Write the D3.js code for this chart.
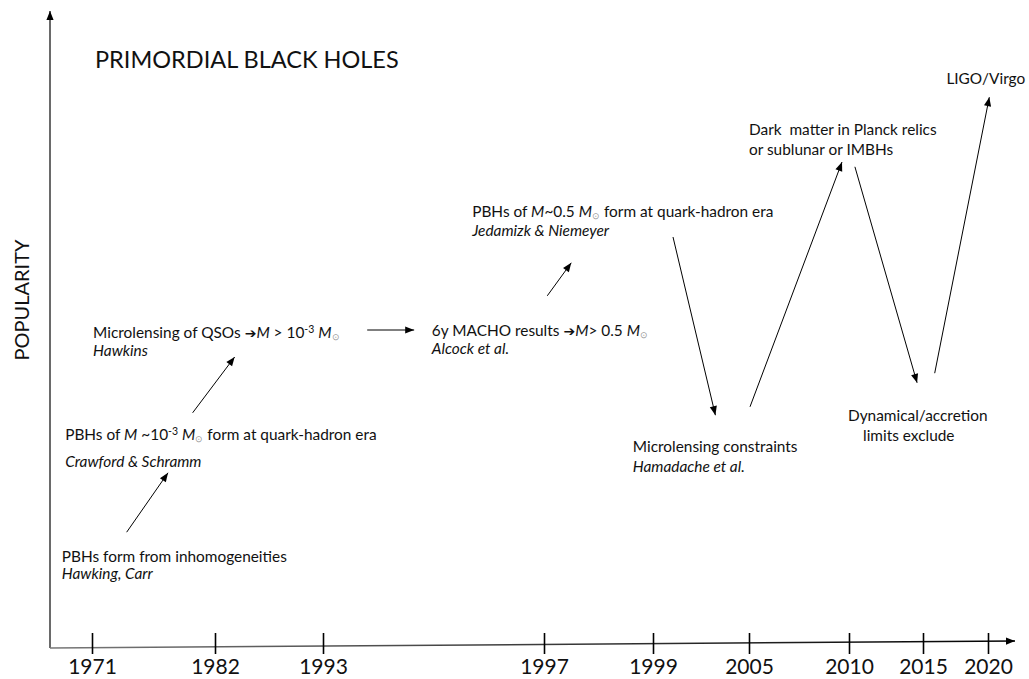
<!DOCTYPE html>
<html>
<head>
<meta charset="utf-8">
<script src="https://cdn.jsdelivr.net/npm/d3@7"></script>
<style>
  body { margin: 0; background: #fff; }
  svg text { font-family: Lato, "Open Sans", sans-serif; fill: #111; white-space: pre; }
</style>
</head>
<body>
<svg id="chart" width="1029" height="679"></svg>
<script>
// tick years on the time axis (the axis is not to scale)
var years = [1971, 1982, 1993, 1997, 1999, 2005, 2010, 2015, 2020];
var tickLabels = ["1971", "1982", "1993", "1997", "1999", "2005", "2010", "2015", "2020"];

// popularity trajectory: [fromYear, fromPop, toYear, toPop]
var trendArrows = [
  [1974.1, 19.3, 1977.8, 29.2],
  [1980.0, 39.2, 1984.0, 48.5],
  [1993.8, 53.0, 1994.65, 53.0],
  [1997.06, 58.7, 1997.5, 64.2],
  [2000.25, 68.5, 2002.9, 38.8],
  [2005.05, 40.2, 2009.65, 81.0],
  [2010.4, 80.2, 2014.6, 44.2],
  [2015.9, 45.8, 2020.1, 91.8]
];

// annotation lines: [year, popularity, text]
var eventLabels = [
  [1968.3, 14.3, "PBHs form from inhomogeneities"],
  [1968.3, 11.5, "{i:Hawking, Carr}"],
  [1968.6, 34.7, "PBHs of {i:M} ~10{sup:-3} {i:M}{sun} form at quark-hadron era"],
  [1968.6, 30.2, "{i:Crawford & Schramm}"],
  [1971.1, 51.7, "Microlensing of QSOs {arr}{i:M} > 10{sup:-3} {i:M}{sun}"],
  [1971.1, 48.7, "{i:Hawkins}"],
  [1994.97, 52.0, "6y MACHO results {arr}{i:M}> 0.5 {i:M}{sun}"],
  [1994.97, 49.0, "{i:Alcock et al.}"],
  [1995.7, 71.8, "PBHs of {i:M}~0.5 {i:M}{sun} form at quark-hadron era"],
  [1995.7, 68.7, "{i:Jedamizk & Niemeyer}"],
  [1998.63, 32.7, "Microlensing constraints"],
  [1998.63, 29.3, "{i:Hamadache et al.}"],
  [2005.0, 85.5, "Dark  matter in Planck relics"],
  [2005.0, 82.2, "or sublunar or IMBHs"],
  [2009.95, 37.8, "Dynamical/accretion"],
  [2010.95, 34.5, "limits exclude"],
  [2016.8, 94.0, "LIGO/Virgo"]
];

var svg = d3.select("#chart");
var tickX = [92, 215, 323, 544, 653, 749, 849, 923, 988];

var x = d3.scaleLinear().domain(years).range(tickX);
var y = d3.scaleLinear().domain([0, 100]).range([648, 48]);

var defs = svg.append("defs");
defs.append("marker")
  .attr("id", "head")
  .attr("markerUnits", "userSpaceOnUse")
  .attr("viewBox", "0 -5 10 10")
  .attr("refX", 10).attr("refY", 0)
  .attr("markerWidth", 10).attr("markerHeight", 9)
  .attr("orient", "auto")
  .append("path").attr("d", "M0,-4L10,0L0,4Z").attr("fill", "#000");

var grad = defs.append("linearGradient").attr("id", "axisGrad");
grad.append("stop").attr("offset", "0%").attr("stop-color", "#777");
grad.append("stop").attr("offset", "100%").attr("stop-color", "#000");

// y axis
svg.append("line")
  .attr("x1", 50).attr("y1", y(0)).attr("x2", 50).attr("y2", 11)
  .attr("stroke", "#6a6a6a").attr("stroke-width", 2)
  .attr("marker-end", "url(#head)");

// x axis line, slightly tilted like the original
svg.append("line")
  .attr("x1", 50).attr("y1", 648).attr("x2", 1015).attr("y2", 641)
  .attr("stroke", "url(#axisGrad)").attr("stroke-width", 1.5)
  .attr("marker-end", "url(#head)");

var xAxis = d3.axisBottom(x)
  .tickValues(years)
  .tickFormat(function (d, i) { return tickLabels[i]; })
  .tickSizeInner(21).tickSizeOuter(0).tickPadding(5);

var gx = svg.append("g").attr("transform", "translate(0,633)").call(xAxis);
gx.select(".domain").remove();
gx.selectAll(".tick line").attr("stroke", "#000").attr("stroke-width", 1.6);
gx.selectAll(".tick text")
  .style("font-family", "Lato, sans-serif")
  .style("font-size", "21px").attr("fill", "#111");

// titles
svg.append("text")
  .attr("x", 95).attr("y", 68)
  .style("font-size", "23.5px")
  .text("PRIMORDIAL BLACK HOLES");

svg.append("text")
  .attr("transform", "translate(29,300) rotate(-90)")
  .attr("text-anchor", "middle")
  .style("font-size", "20px")
  .text("POPULARITY");

// arrows
svg.selectAll(".trend")
  .data(trendArrows)
  .enter().append("line")
  .attr("class", "trend")
  .attr("x1", function (d) { return x(d[0]); })
  .attr("y1", function (d) { return y(d[1]); })
  .attr("x2", function (d) { return x(d[2]); })
  .attr("y2", function (d) { return y(d[3]); })
  .attr("stroke", "#000").attr("stroke-width", 1)
  .attr("marker-end", "url(#head)");

// rich text: {i:..} italic, {sup:..} superscript, {sun} solar symbol, {arr} arrow
function richText(sel, str) {
  var re = /\{(\w+)(?::([^}]*))?\}/g, parts = [], last = 0, m;
  while ((m = re.exec(str))) {
    if (m.index > last) parts.push({ k: "t", v: str.slice(last, m.index) });
    parts.push({ k: m[1], v: m[2] });
    last = re.lastIndex;
  }
  if (last < str.length) parts.push({ k: "t", v: str.slice(last) });
  var shift = 0;
  parts.forEach(function (p) {
    var ts = sel.append("tspan");
    var want = p.k === "sup" ? -5 : (p.k === "sun" ? 2 : 0);
    if (want - shift !== 0) ts.attr("dy", want - shift);
    shift = want;
    if (p.k === "t") ts.text(p.v);
    else if (p.k === "i") ts.style("font-style", "italic").text(p.v);
    else if (p.k === "sup") ts.style("font-size", "10.5px").text(p.v);
    else if (p.k === "sun") ts.style("font-size", "8.5px").style("fill", "#999").text("\u2299");
    else if (p.k === "arr") ts.style("font-family", "'DejaVu Sans'").style("font-size", "14px").style("font-weight", "bold").text("\u2794");
  });
}

svg.selectAll(".event")
  .data(eventLabels)
  .enter().append("text")
  .attr("class", "event")
  .attr("x", function (d) { return x(d[0]); })
  .attr("y", function (d) { return y(d[1]); })
  .style("font-size", "15.4px")
  .each(function (d) { richText(d3.select(this), d[2]); });
</script>
</body>
</html>
